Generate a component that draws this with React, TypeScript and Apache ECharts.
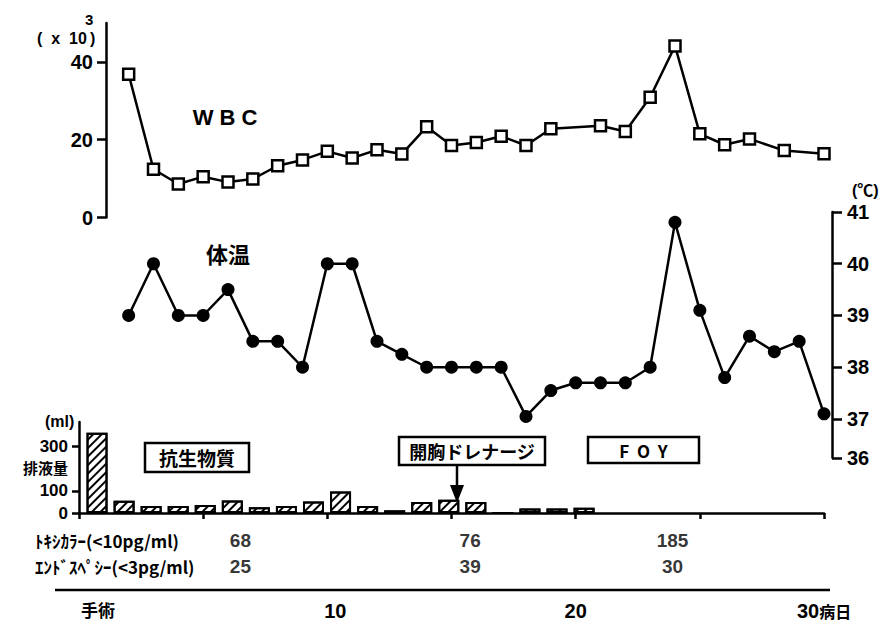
import React, { useEffect, useRef } from 'react';
import * as echarts from 'echarts';

const FONT = '"Liberation Sans", "Noto Sans CJK JP", sans-serif';
const CJK = '"Noto Sans CJK JP", "Liberation Sans", sans-serif';

// WBC (x10^3) by post-operative day
const wbcDays = [2, 3, 4, 5, 6, 7, 8, 9, 10, 11, 12, 13, 14, 15, 16, 17, 18, 19, 21, 22, 23, 24, 25, 26, 27, 28.4, 30];
const wbcValues = [36.8, 12.4, 8.6, 10.5, 9.1, 9.9, 13.3, 14.8, 17.0, 15.3, 17.4, 16.3, 23.3, 18.5, 19.3, 20.9, 18.5, 22.8, 23.6, 22.1, 30.9, 44.1, 21.5, 18.7, 20.2, 17.2, 16.4];

// Body temperature (°C)
const tempDays = [2, 3, 4, 5, 6, 7, 8, 9, 10, 11, 12, 13, 14, 15, 16, 17, 18, 19, 20, 21, 22, 23, 24, 25, 26, 27, 28, 29, 30];
const tempValues = [39, 40, 39, 39, 39.5, 38.5, 38.5, 38, 40, 40, 38.5, 38.25, 38, 38, 38, 38, 37.05, 37.55, 37.7, 37.7, 37.7, 38, 40.8, 39.1, 37.8, 38.6, 38.3, 38.5, 37.1];

// Drainage volume (ml)
const drainageSlots = ['1', '2', '3', '4', '5', '6', '7', '8', '9', '10', '11', '12', '13', '14', '15', '16', '17', '18', '19'];
const drainageValues = [362, 55, 32, 32, 36, 56, 26, 32, 52, 97, 32, 12, 50, 60, 50, 0, 20, 20, 24];

// Lab rows
const labRows = ['ﾄｷｼｶﾗｰ(<10pg/ml)', 'ｴﾝﾄﾞｽﾍﾟｼｰ(<3pg/ml)'];
const labDays = [6.5, 15.75, 23.9];
const toxicolorValues = [68, 76, 185];
const endospecyValues = [25, 39, 30];

// Ticks
const wbcTicks = [0, 20, 40];
const tempTickValues = [36.25, 37, 38, 39, 40, 41];
const tempTickLabels = ['36', '37', '38', '39', '40', '41'];
const drainageTicks = [0, 100, 300];
const dayTicks = [0, 10, 20, 30];
const dayTickLabels = ['{sj|手術}', '{ten|10}', '20', '30{cn|病日}'];

const nearestIdx = (arr: number[], v: number) => {
  let best = 0;
  for (let i = 1; i < arr.length; i++) if (Math.abs(arr[i] - v) < Math.abs(arr[best] - v)) best = i;
  return best;
};

const axisLineStyle = { color: '#000', width: 2.5 };
const tickStyle = { color: '#000', width: 2.5 };
const bold = { fontWeight: 'bold' as const, color: '#000', fontFamily: FONT };

const txt = (x: number, y: number, text: string, fontSize: number, align = 'left', family = FONT) => ({
  type: 'text',
  x,
  y,
  style: { text, fontSize, fontWeight: 'bold', fontFamily: family, fill: '#000', align, verticalAlign: 'middle' },
});

const box = (x: number, y: number, w: number, h: number, label: string, fontSize: number) => ([
  { type: 'rect', shape: { x, y, width: w, height: h }, style: { fill: '#fff', stroke: '#000', lineWidth: 2.5 } },
  txt(x + w / 2, y + h / 2, label, fontSize, 'center', CJK),
]);

export default function App() {
  const ref = useRef<HTMLDivElement>(null);
  useEffect(() => {
    if (!ref.current) return;
    const chart = echarts.init(ref.current, undefined, { renderer: 'svg' });
    const option: any = {
      animation: false,
      backgroundColor: '#fff',
      textStyle: { fontFamily: FONT, color: '#000' },
      grid: [
        { left: 79, right: 64, top: 23, height: 194.5 },
        { left: 79, right: 64, top: 212, height: 245.8 },
        { left: 79, right: 64, top: 422, height: 91 },
        { left: 83.5, width: 514.1, top: 422, height: 91 },
        { left: 79, right: 64, top: 527, height: 52 },
      ],
      xAxis: [
        { type: 'value', gridIndex: 0, min: 0, max: 30, show: false },
        { type: 'value', gridIndex: 1, min: 0, max: 30, show: false },
        {
          type: 'value', gridIndex: 2, min: 0, max: 30, interval: 5,
          axisLine: { show: true, onZero: false, lineStyle: axisLineStyle },
          axisTick: { show: true, length: 6, lineStyle: tickStyle },
          axisLabel: { show: false }, splitLine: { show: false },
        },
        { type: 'category', gridIndex: 3, data: drainageSlots, show: false, boundaryGap: true },
        {
          type: 'value', gridIndex: 4, min: 0, max: 30, offset: 16,
          axisLine: { show: false, onZero: false }, axisTick: { show: false }, splitLine: { show: false },
          axisLabel: {
            customValues: dayTicks, margin: 6, fontSize: 20, ...bold,
            formatter: (v: number) => dayTickLabels[nearestIdx(dayTicks, v)],
            rich: {
              sj: { fontSize: 17, fontWeight: 'bold', fontFamily: CJK, padding: [0, 0, 0, 38], color: '#000' },
              ten: { fontSize: 20, fontWeight: 'bold', fontFamily: FONT, padding: [0, 0, 0, 16], color: '#000' },
              cn: { fontSize: 16, fontWeight: 'bold', fontFamily: CJK, color: '#000' },
            },
          },
        },
      ],
      yAxis: [
        {
          type: 'value', gridIndex: 0, min: 0, max: 50, position: 'left', offset: -27,
          axisLine: { show: true, onZero: false, lineStyle: axisLineStyle },
          axisTick: { show: true, customValues: wbcTicks, length: 9, lineStyle: tickStyle },
          axisLabel: { customValues: wbcTicks, margin: 13, fontSize: 20, ...bold },
          splitLine: { show: false },
        },
        {
          type: 'value', gridIndex: 1, min: 36.25, max: 41, position: 'right', offset: 8,
          axisLine: { show: true, onZero: false, lineStyle: axisLineStyle },
          axisTick: { show: true, customValues: tempTickValues, length: 10, lineStyle: tickStyle },
          axisLabel: {
            customValues: tempTickValues, margin: 15, fontSize: 20, ...bold,
            formatter: (v: number) => tempTickLabels[nearestIdx(tempTickValues, v)],
          },
          splitLine: { show: false },
        },
        {
          type: 'value', gridIndex: 2, min: 0, max: 410, position: 'left',
          axisLine: { show: true, onZero: false, lineStyle: axisLineStyle },
          axisTick: { show: true, customValues: drainageTicks, length: 7, lineStyle: tickStyle },
          axisLabel: { customValues: drainageTicks, margin: 11, fontSize: 17, ...bold, lineHeight: 15 },
          splitLine: { show: false },
        },
        { type: 'value', gridIndex: 3, min: 0, max: 410, show: false },
        {
          type: 'category', gridIndex: 4, data: labRows, inverse: true,
          axisLine: { show: false, onZero: false }, axisTick: { show: false }, splitLine: { show: false },
          axisLabel: { align: 'left', margin: 44, fontSize: 17, fontWeight: 'bold', color: '#000', fontFamily: CJK },
        },
      ],
      series: [
        {
          type: 'line', xAxisIndex: 0, yAxisIndex: 0,
          data: wbcDays.map((d, i) => [d, wbcValues[i]]),
          symbol: 'rect', symbolSize: 11,
          lineStyle: { color: '#000', width: 2.5 },
          itemStyle: { color: '#fff', borderColor: '#000', borderWidth: 2.5 },
        },
        {
          type: 'line', xAxisIndex: 1, yAxisIndex: 1,
          data: tempDays.map((d, i) => [d, tempValues[i]]),
          symbol: 'circle', symbolSize: 13,
          lineStyle: { color: '#000', width: 2.5 },
          itemStyle: { color: '#000' },
        },
        {
          type: 'bar', xAxisIndex: 3, yAxisIndex: 3,
          data: drainageValues, barWidth: 21,
          itemStyle: {
            color: '#fff', borderColor: '#000', borderWidth: 2,
            decal: { symbol: 'rect', symbolSize: 1, color: '#000', dashArrayX: [1, 0], dashArrayY: [2, 4], rotation: -Math.PI / 4 },
          },
        },
        {
          type: 'scatter', xAxisIndex: 4, yAxisIndex: 4,
          data: labDays.map((d, i) => [d, labRows[0], toxicolorValues[i]]),
          symbolSize: 1, itemStyle: { color: 'transparent' },
          label: { show: true, position: 'inside', formatter: (p: any) => String(p.value[2]), fontSize: 19, ...bold },
        },
        {
          type: 'scatter', xAxisIndex: 4, yAxisIndex: 4,
          data: labDays.map((d, i) => [d, labRows[1], endospecyValues[i]]),
          symbolSize: 1, itemStyle: { color: 'transparent' },
          label: { show: true, position: 'inside', formatter: (p: any) => String(p.value[2]), fontSize: 19, ...bold },
        },
      ],
      graphic: [
        txt(37, 38, '(  x  10', 16),
        txt(85, 19, '3', 15),
        txt(90, 38, ')', 16),
        txt(225, 117, 'W B C', 22, 'center'),
        txt(228, 253, '体温', 22, 'center', CJK),
        txt(852, 190, '(℃)', 16),
        txt(45, 421, '(ml)', 16),
        txt(23, 467, '排液量', 15, 'left', CJK),
        ...box(145, 443, 104, 29, '抗生物質', 19),
        ...box(399, 437, 146, 28, '開胸ドレナージ', 18),
        { type: 'line', shape: { x1: 457, y1: 465, x2: 457, y2: 488 }, style: { stroke: '#000', lineWidth: 2.5 } },
        { type: 'polygon', shape: { points: [[450, 485], [464, 485], [457, 503]] }, style: { fill: '#000' } },
        ...box(588, 437, 111, 26, 'F  O  Y', 17),
        { type: 'line', shape: { x1: 55, y1: 590, x2: 830, y2: 590 }, style: { stroke: '#000', lineWidth: 2.5 } },
      ],
    };
    chart.setOption(option);
    return () => chart.dispose();
  }, []);
  return <div ref={ref} style={{ position: 'absolute', left: 0, top: 0, width: 888, height: 626 }} />;
}
